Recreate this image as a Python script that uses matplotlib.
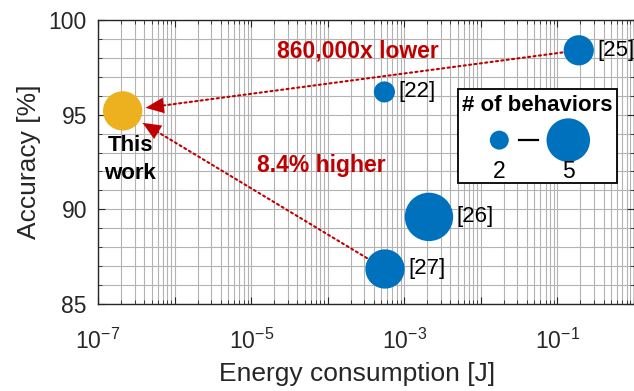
import numpy as np
import matplotlib
matplotlib.use("Agg")
from matplotlib import pyplot as plt
from matplotlib.patches import Rectangle

plt.rcParams['font.family'] = ['Liberation Sans', 'DejaVu Sans']
plt.rcParams['mathtext.fontset'] = 'custom'
plt.rcParams['mathtext.rm'] = 'Liberation Sans'
plt.rcParams['mathtext.it'] = 'Liberation Sans'

# data
works = ['This work', '[22]', '[25]', '[26]', '[27]']
energy = [2.1e-7, 5.5e-4, 0.19, 2.1e-3, 5.6e-4]       # J
accuracy = [95.2, 96.2, 98.4, 89.6, 86.85]            # %
behaviors = [4, 2, 3, 5, 4]

x_ticks = [1e-7, 1e-6, 1e-5, 1e-4, 1e-3, 1e-2, 1e-1, 1e0]
y_ticks = [85, 90, 95, 100]

blue = '#0072BD'
yellow = '#EDB120'
red = '#C00000'
DPI = 100


# bubble diameter in pixels for a number of behaviors
def diam_px(b):
    return 2.9 + 9.1 * b


def size_pt2(b, scale=1.0):
    return (diam_px(b) * scale * 72 / DPI) ** 2


fig = plt.figure(figsize=(6.34, 3.91), dpi=DPI)
ax = fig.add_axes([98 / 634, 87 / 391, 536 / 634, 284 / 391])

ax.set_xscale('log')
ax.set_xlim(1e-7, 1e0)
ax.set_ylim(85, 100)

ax.set_xticks(x_ticks)
ax.set_xticklabels(['' if i % 2 else r'$10^{%d}$' % round(np.log10(t))
                    for i, t in enumerate(x_ticks)])
ax.xaxis.set_minor_locator(matplotlib.ticker.LogLocator(base=10, subs=np.arange(2, 10), numticks=100))
ax.xaxis.set_minor_formatter(matplotlib.ticker.NullFormatter())
ax.set_yticks(y_ticks)
ax.set_yticks(np.arange(85, 101, 1), minor=True)

ax.grid(True, which='both', color='#b3b3b3', linewidth=0.8)
ax.set_axisbelow(True)
ax.tick_params(which='both', direction='in', top=True, right=True, colors='#262626',
               labelsize=16.5)
ax.tick_params(which='major', length=5, width=0.8)
ax.tick_params(which='minor', length=3, width=0.6)
ax.tick_params(axis='x', pad=18)
ax.tick_params(axis='y', pad=8)
for s in ax.spines.values():
    s.set_color('#262626')
    s.set_linewidth(1.0)

ax.set_xlabel('Energy consumption [J]', fontsize=19, color='#262626')
ax.xaxis.set_label_coords(0.4826, -0.205)
ax.set_ylabel('Accuracy [%]', fontsize=19, color='#262626')
ax.yaxis.set_label_coords(-0.106, 0.5)

# arrows from the other works to this work
def arrow(i_from, i_to):
    x0, y0 = energy[i_from], accuracy[i_from]
    x1, y1 = energy[i_to], accuracy[i_to]
    sa = diam_px(behaviors[i_from]) * 0.36 + 1
    sb = diam_px(behaviors[i_to]) * 0.36 + 2.5
    # dotted shaft
    ax.annotate('', xy=(x1, y1), xytext=(x0, y0),
                arrowprops=dict(arrowstyle='-', color=red, lw=1.5, linestyle=(0, (1, 1.6)),
                                shrinkA=sa, shrinkB=sb + 6),
                zorder=3)
    # solid head, from a point a bit back along the same line
    t = 0.2
    xm = 10 ** (np.log10(x1) + t * (np.log10(x0) - np.log10(x1)))
    ym = y1 + t * (y0 - y1)
    ax.annotate('', xy=(x1, y1), xytext=(xm, ym),
                arrowprops=dict(arrowstyle='-|>,head_length=0.65,head_width=0.28',
                                color=red, lw=0.1, shrinkA=0, shrinkB=sb,
                                mutation_scale=20),
                zorder=3)


arrow(2, 0)
arrow(4, 0)

colors = [yellow] + [blue] * (len(works) - 1)
ax.scatter(energy, accuracy, s=[size_pt2(b) for b in behaviors], c=colors,
           edgecolors='none', zorder=4)

for i, name in enumerate(works):
    if i == 0:
        continue
    off = diam_px(behaviors[i]) * 0.36 + 2.5
    ax.annotate(name, (energy[i], accuracy[i]), xytext=(off, 0), textcoords='offset points',
                fontsize=16, va='center', ha='left', zorder=5)

ax.annotate('This\nwork', (energy[0], accuracy[0]), xytext=(5.3, -35), textcoords='offset points',
            fontsize=16, fontweight='bold', ha='center', va='center', linespacing=1.4, zorder=5)

ax.text(2.5e-4, 98.36, '860,000x lower', color=red, fontsize=16.5, fontweight='bold',
        ha='center', va='center', zorder=5)
ax.text(8.2e-5, 92.3, '8.4% higher', color=red, fontsize=16.5, fontweight='bold',
        ha='center', va='center', zorder=5)

# bubble size legend
ax.add_patch(Rectangle((0.6711, 0.425), 0.2966, 0.331, transform=ax.transAxes,
                       facecolor='white', edgecolor='black', linewidth=1.3, zorder=6))
ax.text(0.820, 0.698, '# of behaviors', transform=ax.transAxes, fontsize=16,
        fontweight='bold', ha='center', va='center', zorder=7)
leg_b = [min(behaviors), max(behaviors)]
leg_x = [0.7487, 0.8774]
ax.scatter(leg_x, [0.577, 0.577], s=[size_pt2(b, 0.9) for b in leg_b], c=blue,
           edgecolors='none', transform=ax.transAxes, zorder=7)
ax.plot([0.7854, 0.8215], [0.577, 0.577], color='black', lw=1.6,
        transform=ax.transAxes, zorder=7)
for xx, b in zip(leg_x, leg_b):
    ax.text(xx, 0.465, str(b), transform=ax.transAxes, fontsize=16.5, ha='center',
            va='center', zorder=7)

fig.savefig('out.png', dpi=DPI)
